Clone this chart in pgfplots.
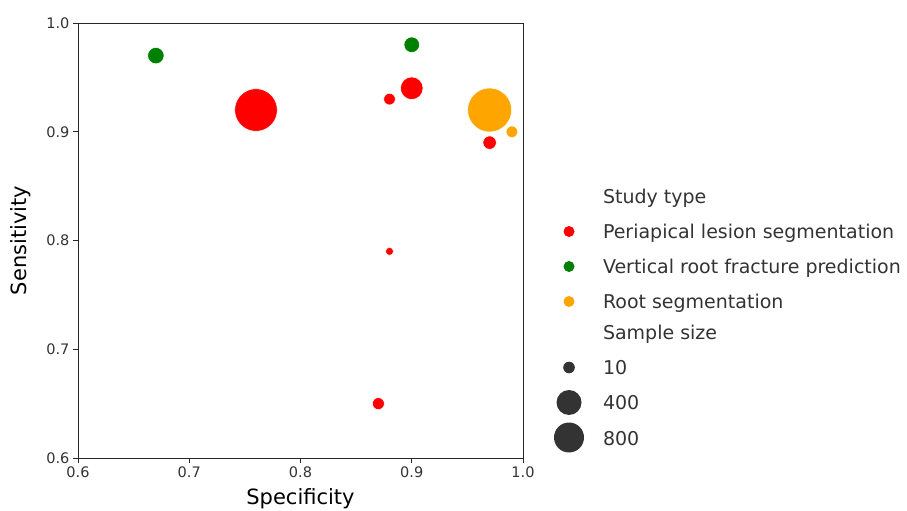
\documentclass[border=0pt]{standalone}
\usepackage{fontspec}
\setmainfont{DejaVu Sans}
\usepackage{pgfplots}
\usepackage{pgfplotstable}
\pgfplotsset{compat=1.18}

% spec = specificity, sens = sensitivity, r = marker radius (pt)
\pgfplotstableread{
spec sens r
0.76 0.92 21.3
0.90 0.94 11.3
0.88 0.93 5.8
0.97 0.89 6.7
0.88 0.79 4.0
0.87 0.65 6.0
}\lesion
\pgfplotstableread{
spec sens r
0.67 0.97 8.2
0.90 0.98 7.8
}\fracture
\pgfplotstableread{
spec sens r
0.97 0.92 22.0
0.99 0.90 5.8
}\rootseg

\definecolor{cred}{HTML}{FF0000}
\definecolor{cgreen}{HTML}{008000}
\definecolor{corange}{HTML}{FFA500}
\definecolor{cdark}{HTML}{333333}

\pgfplotsset{
  bubble/.style={
    scatter, only marks, mark=*, forget plot,
    scatter/use mapped color={draw=white, fill=#1},
    mark options={line width=0.5pt},
    visualization depends on={\thisrow{r} \as \rad},
    scatter/@pre marker code/.append style={/tikz/mark size=\rad},
  },
  dot/.style n args={2}{legend image code/.code={
    \path[draw=none, fill=none] (0pt,-4pt) rectangle (12pt,12pt);
    \fill[#1, draw=none, overlay] (6pt,3.5pt) circle (#2);}},
}

\begin{document}
\begin{tikzpicture}
\useasboundingbox (0,0) rectangle (907pt,511pt);
\begin{axis}[
  at={(78pt,53pt)}, anchor=south west,
  width=445pt, height=435pt, scale only axis,
  xmin=0.6, xmax=1.0, ymin=0.6, ymax=1.0,
  xtick={0.6,0.7,0.8,0.9,1.0}, ytick={0.6,0.7,0.8,0.9,1.0},
  xtick pos=bottom, ytick pos=left,
  tick align=outside, major tick length=5pt,
  axis line style={black!85, line width=0.8pt},
  tick style={black!85, line width=0.8pt},
  /pgf/number format/assume math mode=true,
  /pgf/number format/.cd, fixed, fixed zerofill, precision=1, /pgfplots/.cd,
  tick label style={font=\fontsize{14.5}{17}\selectfont, text=cdark},
  label style={font=\fontsize{21}{25}\selectfont, text=black},
  xlabel={Specificity},
  ylabel={Sensitivity},
  xlabel style={at={(axis description cs:0.5,-0.108)}, anchor=base},
  ylabel style={at={(axis description cs:-0.1153,0.5)}, anchor=base},
  legend style={
    at={(axis description cs:1.0899,0.6115)}, anchor=north west,
    draw=none, fill=none, inner sep=0pt, outer sep=0pt,
    row sep=15pt,
    font=\fontsize{19}{22}\selectfont, text=cdark,
    nodes={inner sep=0pt, text height=12pt, text depth=4pt},
    /tikz/every odd column/.append style={column sep=28pt},
  },
  legend cell align=left,
]
\addplot[bubble=cred] table[x=spec, y=sens, meta=r] {\lesion};
\addplot[bubble=cgreen] table[x=spec, y=sens, meta=r] {\fracture};
\addplot[bubble=corange] table[x=spec, y=sens, meta=r] {\rootseg};

\addlegendimage{empty legend}
\addlegendentry{Study type}
\addlegendimage{dot={cred}{5.5pt}}
\addlegendentry{Periapical lesion segmentation}
\addlegendimage{dot={cgreen}{5.5pt}}
\addlegendentry{Vertical root fracture prediction}
\addlegendimage{dot={corange}{5.5pt}}
\addlegendentry{Root segmentation}
\addlegendimage{empty legend}
\addlegendentry{Sample size}
\addlegendimage{dot={cdark}{5.8pt}}
\addlegendentry{10}
\addlegendimage{dot={cdark}{12.5pt}}
\addlegendentry{400}
\addlegendimage{dot={cdark}{15pt}}
\addlegendentry{800}
\end{axis}
\end{tikzpicture}
\end{document}
